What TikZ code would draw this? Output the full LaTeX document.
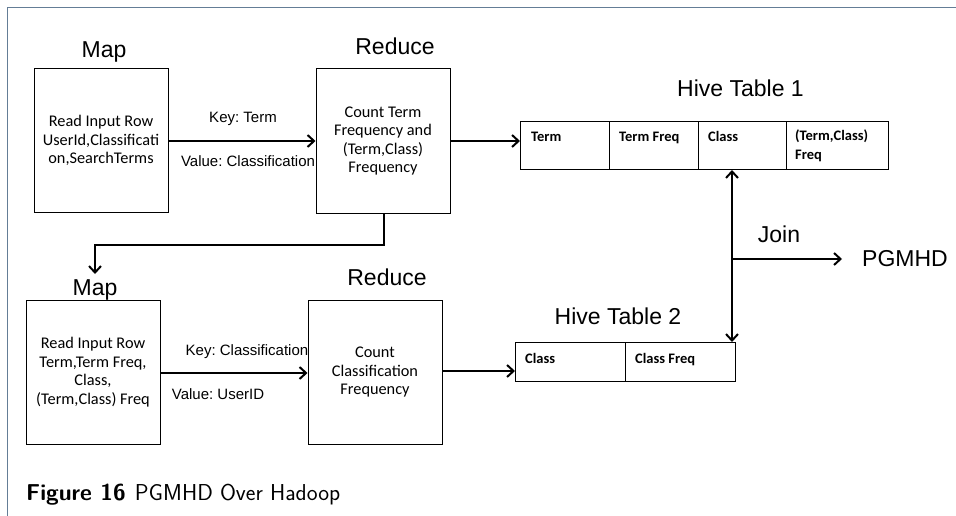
\documentclass[tikz,border=0pt]{standalone}
\usepackage{fontspec}
\usetikzlibrary{arrows.meta,calc}
\newfontfamily\arialf{Liberation Sans}
\newfontfamily\calibrif{Carlito}
\definecolor{framecol}{RGB}{100,125,150}
\begin{document}
\frenchspacing
\begin{tikzpicture}[x=1pt,y=-1pt,
  box/.style={draw,line width=1pt,minimum width=134pt,minimum height=144pt,inner sep=0pt,
    align=center,font=\calibrif\fontsize{16.3}{18.5}\selectfont},
  cell/.style={draw,line width=1pt,inner sep=0pt,anchor=north west},
  celltext/.style={anchor=base west,inner sep=0pt,align=left,font=\calibrif\bfseries\fontsize{14.5}{19}\selectfont},
  head/.style={anchor=base,inner sep=0pt,font=\arialf\fontsize{23}{26}\selectfont},
  kv/.style={anchor=base,inner sep=0pt,font=\arialf\fontsize{15}{18}\selectfont},
  conn/.style={line width=2pt,-{Straight Barb[length=6.5pt,width=12pt]}},
  line/.style={line width=2pt}]
\useasboundingbox (0,0) rectangle (956,516);
% frame
\draw[framecol,line width=1.6pt] (7.5,516) -- (7.5,7.5) -- (956,7.5);

% headers
\node[head] (hm1) at (104,58) {Map};
\node[head] (hr1) at (395,55) {Reduce};
\node[head] (ht1) at (740.5,97) {Hive Table 1};
\node[head] (hm2) at (95,295) {Map};
\node[head] (hr2) at (387,285) {Reduce};
\node[head] (ht2) at (618,324) {Hive Table 2};
\node[head] (join) at (779,242) {Join};
\node[head,anchor=base west] (pg) at (862,266) {PGMHD};

% boxes
\node[box] (m1) at (101,140.5) {Read Input Row\\UserId,Classificati\\on,SearchTerms};
\node[box] (r1) at (383,141) {Count Term\\Frequency and\\(Term,Class)\\Frequency};
\node[box] (m2) at (93,372) {Read Input Row\\Term,Term Freq,\\Class,\\(Term,Class) Freq};
\node[box] (r2) at (375,372.5) {Count\\Classification\\Frequency};

% key/value labels
\node[kv] (k1) at (243,123) {Key: Term};
\node[kv] (v1) at (248,167) {Value: Classification};
\node[kv] (k2) at (247,355) {Key: Classification};
\node[kv] (v2) at (218,399) {Value: UserID};

% Hive table 1
\node[cell,minimum width=89pt,minimum height=48pt] (t1a) at (520,121) {};
\node[cell,minimum width=89pt,minimum height=48pt] (t1b) at (609,121) {};
\node[cell,minimum width=88pt,minimum height=48pt] (t1c) at (698,121) {};
\node[cell,minimum width=102pt,minimum height=48pt] (t1d) at (786,121) {};
\node[celltext] (t1at) at ($(t1a.north west)+(11,21)$) {Term};
\node[celltext] (t1bt) at ($(t1b.north west)+(10,21)$) {Term Freq};
\node[celltext] (t1ct) at ($(t1c.north west)+(10,21)$) {Class};
\node[celltext,anchor=north west] (t1dt) at ($(t1d.north west)+(9,9)$) {(Term,Class)\\Freq};

% Hive table 2
\node[cell,minimum width=110pt,minimum height=39pt] (t2a) at (515,342) {};
\node[cell,minimum width=110pt,minimum height=39pt] (t2b) at (625,342) {};
\node[celltext] (t2at) at ($(t2a.north west)+(10,21)$) {Class};
\node[celltext] (t2bt) at ($(t2b.north west)+(10,21)$) {Class Freq};

% connectors
\draw[conn] (m1.east |- 0,141) -- (r1.west |- 0,141);
\draw[conn] (r1.east |- 0,141) -- (t1a.west |- 0,141);
\coordinate (down1) at (384,245);
\coordinate (down2) at (95,245);
\coordinate (m2in) at (95,274);
\draw[conn] (r1.south -| down1) -- (down1) -- (down2) -- (m2in);
\draw[conn] (m2.east |- 0,373) -- (r2.west |- 0,373);
\draw[conn] (r2.east |- 0,371) -- (t2a.west |- 0,371);
\coordinate (j) at (732,259);
\draw[conn] (j) -- (j |- t1c.south);
\draw[conn] (j) -- (j |- t2b.north);
\draw[conn] (j) -- ($(pg.west |- j)+(-20,0)$);

% caption
\node[anchor=base west,inner sep=0pt,font=\sffamily\fontsize{23}{26}\selectfont] (cap) at (26,500) {\textbf{Figure 16}\hspace{0.4em}PGMHD Over Hadoop};
\end{tikzpicture}
\end{document}
